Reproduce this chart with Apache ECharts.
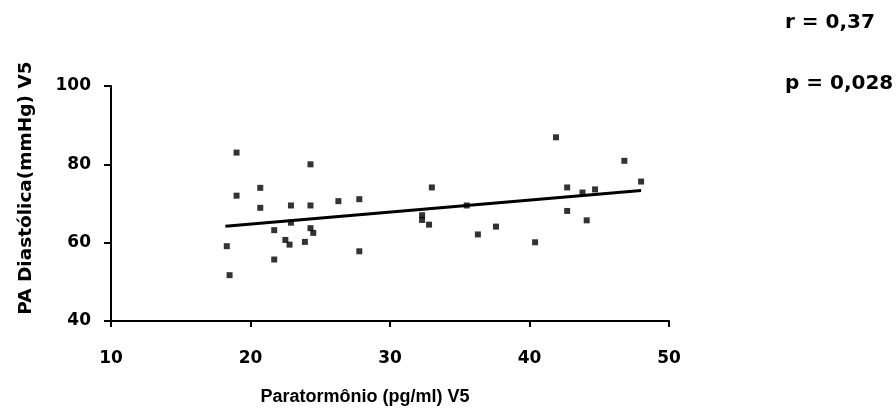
<!DOCTYPE html>
<html><head><meta charset="utf-8">
<script src="https://cdn.jsdelivr.net/npm/echarts@6/dist/echarts.min.js"></script>
<style>html,body{margin:0;padding:0;background:#fff}#c{width:896px;height:412px}</style>
</head><body><div id="c"></div>
<script>
var pthX = [19.0,20.7,19.0,20.7,21.7,18.3,21.7,18.5,24.3,33.0,22.9,24.3,26.3,27.8,22.9,24.3,24.5,22.5,22.8,23.9,27.8,32.3,32.3,32.8,41.9,46.8,48.0,42.7,43.8,44.7,35.5,42.7,44.1,37.6,36.3,40.4];
var padY = [83.0,74.0,72.0,68.9,63.2,59.1,55.7,51.7,80.0,74.1,69.5,69.5,70.6,71.1,65.1,63.7,62.5,60.7,59.5,60.2,57.8,67.0,65.8,64.6,86.9,80.9,75.6,74.1,72.8,73.6,69.5,68.1,65.7,64.1,62.1,60.1];
var lineX = [18.2,48.0];
var lineY = [64.2,73.3];
var xTicks = [10,20,30,40,50];
var yTicks = [40,60,80,100];
var statsText = ['r = 0,37','p = 0,028'];
var xTitle = 'Paratormônio (pg/ml) V5';
var yTitle = 'PA Diastólica(mmHg) V5';

var font = '"DejaVu Sans", sans-serif';
var font2 = '"Liberation Sans", Arial, sans-serif';
var chart = echarts.init(document.getElementById('c'));
var pts = pthX.map(function(x,i){return [x,padY[i]];});
var ln = lineX.map(function(x,i){return [x,lineY[i]];});
var lblStyle = {color:'#000',fontWeight:'bold',fontSize:17,fontFamily:font};
chart.setOption({
  animation:false,
  backgroundColor:'#fff',
  grid:{left:111,right:227,top:86,bottom:91},
  xAxis:{type:'value',min:xTicks[0],max:xTicks[xTicks.length-1],interval:10,
    axisLine:{lineStyle:{color:'#000',width:2}},
    axisTick:{show:true,length:6,lineStyle:{color:'#000',width:2}},
    axisLabel:Object.assign({margin:29},lblStyle),
    splitLine:{show:false}},
  yAxis:{type:'value',min:yTicks[0],max:yTicks[yTicks.length-1],interval:20,
    axisLine:{show:true,lineStyle:{color:'#000',width:2}},
    axisTick:{show:true,length:7,lineStyle:{color:'#000',width:2}},
    axisLabel:Object.assign({margin:20},lblStyle),
    splitLine:{show:false}},
  series:[
    {type:'scatter',data:pts,symbol:'rect',symbolSize:6,itemStyle:{color:'#000'},z:3},
    {type:'line',data:ln,symbol:'none',lineStyle:{color:'#000',width:3},z:2}
  ],
  graphic:[
    {type:'text',x:365,y:397,style:{text:xTitle,fill:'#000',font:'bold 18px '+font2,align:'center',verticalAlign:'middle'}},
    {type:'text',x:26,y:188,rotation:Math.PI/2,style:{text:yTitle,fill:'#000',font:'bold 18.5px '+font,align:'center',verticalAlign:'middle'}},
    {type:'text',x:785,y:23,style:{text:statsText[0],fill:'#000',font:'bold 20px '+font,verticalAlign:'middle'}},
    {type:'text',x:785,y:84,style:{text:statsText[1],fill:'#000',font:'bold 20px '+font,verticalAlign:'middle'}}
  ]
});
</script></body></html>
